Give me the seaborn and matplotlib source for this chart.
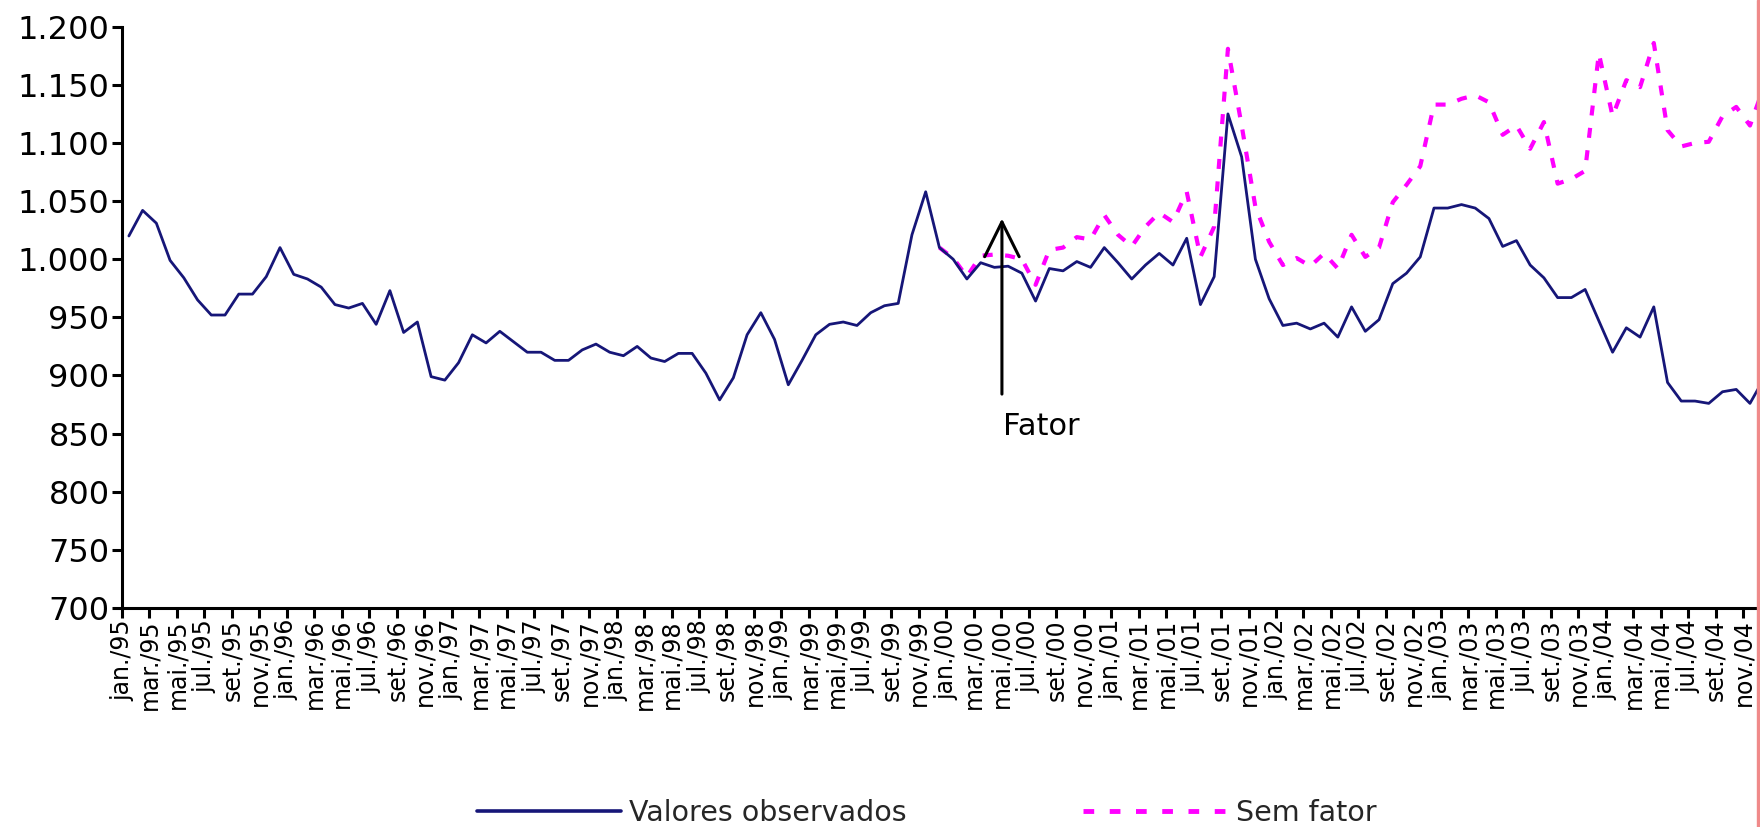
import numpy as np
import pandas as pd
import matplotlib
matplotlib.use("Agg")
import matplotlib.pyplot as plt
import seaborn as sns
from matplotlib.lines import Line2D
from matplotlib.patches import Rectangle

# monthly series jan/95 .. dez/04
month_names = ["jan.", "fev.", "mar.", "abr.", "mai.", "jun.",
               "jul.", "ago.", "set.", "out.", "nov.", "dez."]
years = list(range(1995, 2005))

observados = [
    1020, 1042, 1031, 999, 984, 965, 952, 952, 970, 970, 985, 1010,   # 1995
    987, 983, 976, 961, 958, 962, 944, 973, 937, 946, 899, 896,       # 1996
    911, 935, 928, 938, 929, 920, 920, 913, 913, 922, 927, 920,       # 1997
    917, 925, 915, 912, 919, 919, 902, 879, 898, 935, 954, 931,       # 1998
    892, 913, 935, 944, 946, 943, 954, 960, 962, 1021, 1058, 1010,    # 1999
    1000, 983, 997, 993, 994, 988, 964, 992, 990, 998, 993, 1010,     # 2000
    997, 983, 995, 1005, 995, 1018, 961, 985, 1125, 1088, 1000, 966,  # 2001
    943, 945, 940, 945, 933, 959, 938, 948, 979, 988, 1002, 1044,     # 2002
    1044, 1047, 1044, 1035, 1011, 1016, 995, 984, 967, 967, 974, 947, # 2003
    920, 941, 933, 959, 894, 878, 878, 876, 886, 888, 876, 897,       # 2004
]

sem_fator = [np.nan] * 59 + [
    1010,                                                             # dez/99
    1001, 985, 1003, 1004, 1003, 1000, 978, 1008, 1010, 1019, 1017, 1038,   # 2000
    1021, 1011, 1028, 1040, 1032, 1058, 1002, 1028, 1181, 1115, 1045, 1015, # 2001
    995, 1001, 994, 1005, 992, 1021, 1002, 1010, 1049, 1064, 1080, 1133,    # 2002
    1133, 1138, 1141, 1135, 1107, 1115, 1095, 1118, 1065, 1069, 1076, 1177, # 2003
    1123, 1154, 1148, 1186, 1111, 1097, 1100, 1101, 1123, 1131, 1115, 1148, # 2004
]

labels_all = [f"{m}/{str(y)[2:]}" for y in years for m in month_names]
idx = np.arange(len(observados))
df = pd.DataFrame({"mes": idx, "obs": observados, "sem": sem_fator})

sns.set_style("ticks")
plt.rcParams["font.family"] = ["DejaVu Sans"]

W, H = 1760, 827
fig = plt.figure(figsize=(W / 100, H / 100), dpi=100)
ax = fig.add_axes([122 / W, 1 - 608 / H, (W - 122) / W, (608 - 26.7) / H])

blue = "#161678"
pink = "#ff00ff"
sns.lineplot(data=df, x="mes", y="sem", ax=ax, color=pink, lw=3.0,
             linestyle=(0, (2.4, 3.0)))
sns.lineplot(data=df, x="mes", y="obs", ax=ax, color=blue, lw=2.0)

ax.set_xlim(-0.5, 118.73)
ax.set_ylim(700, 1200)
ax.set_xlabel("")
ax.set_ylabel("")

yt = np.arange(700, 1201, 50)
ax.set_yticks(yt)
ax.set_yticklabels([f"{v:,}".replace(",", ".") for v in yt])
ax.set_xticks(idx[::2] - 0.5)
ax.set_xticklabels(labels_all[::2], rotation=90)

for s in ["top", "right"]:
    ax.spines[s].set_visible(False)
for s in ["left", "bottom"]:
    ax.spines[s].set_linewidth(2.2)
    ax.spines[s].set_color("black")
ax.tick_params(axis="both", direction="out", length=7, width=2.2, colors="black")
ax.tick_params(axis="y", labelsize=23, pad=2)
ax.tick_params(axis="x", labelsize=17, pad=1)

# arrow marking the factor
ax.annotate("", xy=(63.55, 1035), xytext=(63.55, 884),
            arrowprops=dict(arrowstyle="->,head_length=1.25,head_width=0.62",
                            lw=2.2, color="black", mutation_scale=20,
                            shrinkA=0, shrinkB=0))
ax.text(63.6, 856, "Fator", fontsize=22, ha="left", va="center", color="black")

handles = [
    Line2D([], [], color=blue, lw=2.6),
    Line2D([], [], color=pink, lw=3.5, linestyle=(0, (2.2, 3.2))),
]
fig.legend(handles, ["Valores observados", "Sem fator"], loc="center left",
           bbox_to_anchor=(477 / W, 14 / H), ncol=2, frameon=False,
           fontsize=20.5, handlelength=5.05, handletextpad=0.3,
           columnspacing=6.2, borderpad=0, borderaxespad=0)

# thin salmon strip on the right edge
fig.patches.append(Rectangle((1756.5 / W, 0), 3.5 / W, 1, transform=fig.transFigure,
                             color="#f08a8a", zorder=10))

fig.savefig("out.png", dpi=100)
